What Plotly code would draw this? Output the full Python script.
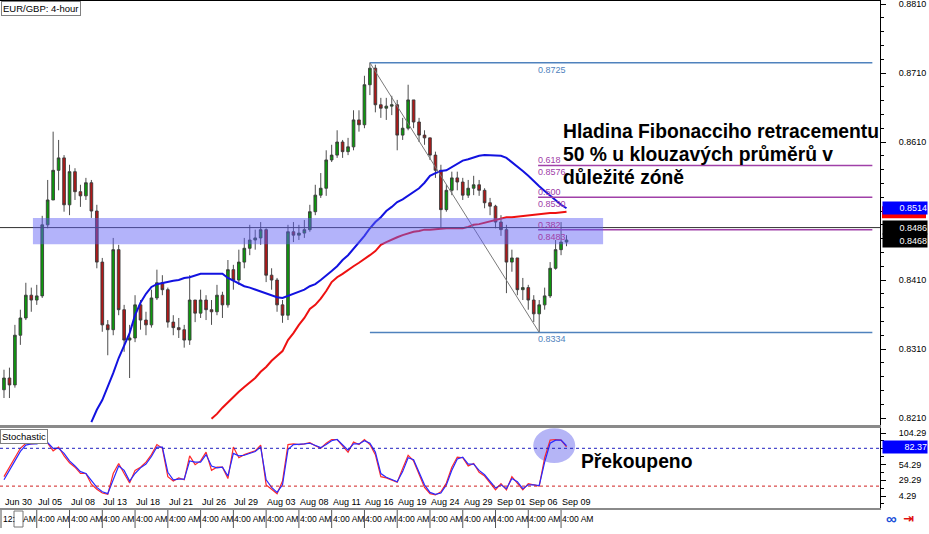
import plotly.graph_objects as go

# ---------------- data ----------------
date_labels = ["Jun 30", "Jul 05", "Jul 08", "Jul 13", "Jul 18", "Jul 21", "Jul 26", "Jul 29",
               "Aug 03", "Aug 08", "Aug 11", "Aug 16", "Aug 19", "Aug 24", "Aug 29", "Sep 01",
               "Sep 06", "Sep 09"]
time_label = "4:00 AM"
bars_per_label = 6

price_ticks = [0.8210, 0.8310, 0.8410, 0.8510, 0.8610, 0.8710, 0.8810]
price_tick_text = ["0.8210", "0.8310", "0.8410", "", "0.8610", "0.8710", "0.8810"]  # 0.8510 hidden by price boxes
stoch_ticks = [4.29, 29.29, 54.29, 104.29]
stoch_overbought = 80
stoch_oversold = 20

open_ = [0.8251, 0.8268, 0.8258, 0.8330, 0.8355, 0.8388, 0.8381, 0.8387, 0.8490, 0.8526,
         0.8569, 0.8587, 0.8519, 0.8567, 0.8538, 0.8532, 0.8551, 0.8510, 0.8436, 0.8345,
         0.8338, 0.8454, 0.8367, 0.8323, 0.8326, 0.8374, 0.8352, 0.8345, 0.8384, 0.8406,
         0.8396, 0.8349, 0.8341, 0.8338, 0.8323, 0.8381, 0.8362, 0.8381, 0.8367, 0.8364,
         0.8388, 0.8374, 0.8425, 0.8410, 0.8436, 0.8456, 0.8468, 0.8471, 0.8483, 0.8417,
         0.8410, 0.8374, 0.8359, 0.8480, 0.8475, 0.8478, 0.8483, 0.8509, 0.8533, 0.8543,
         0.8584, 0.8591, 0.8610, 0.8596, 0.8603, 0.8642, 0.8635, 0.8693, 0.8717, 0.8664,
         0.8659, 0.8662, 0.8664, 0.8620, 0.8630, 0.8671, 0.8639, 0.8620, 0.8616, 0.8591,
         0.8569, 0.8512, 0.8540, 0.8558, 0.8552, 0.8533, 0.8543, 0.8548, 0.8540, 0.8522,
         0.8517, 0.8494, 0.8483, 0.8436, 0.8442, 0.8396, 0.8399, 0.8381, 0.8361, 0.8374,
         0.8387, 0.8427, 0.8454, 0.8465]
high = [0.8280, 0.8283, 0.8345, 0.8367, 0.8406, 0.8399, 0.8403, 0.8503, 0.8555, 0.8625,
        0.8613, 0.8591, 0.8577, 0.8572, 0.8548, 0.8558, 0.8555, 0.8519, 0.8442, 0.8352,
        0.8471, 0.8461, 0.8374, 0.8345, 0.8388, 0.8381, 0.8364, 0.8396, 0.8425, 0.8417,
        0.8399, 0.8359, 0.8355, 0.8345, 0.8417, 0.8381, 0.8396, 0.8388, 0.8381, 0.8403,
        0.8393, 0.8439, 0.8432, 0.8454, 0.8471, 0.8490, 0.8483, 0.8494, 0.8485, 0.8427,
        0.8413, 0.8381, 0.8490, 0.8494, 0.8490, 0.8497, 0.8519, 0.8548, 0.8565, 0.8598,
        0.8606, 0.8627, 0.8613, 0.8616, 0.8656, 0.8656, 0.8706, 0.8725, 0.8722, 0.8674,
        0.8674, 0.8677, 0.8671, 0.8645, 0.8693, 0.8671, 0.8645, 0.8627, 0.8616, 0.8596,
        0.8577, 0.8548, 0.8567, 0.8567, 0.8558, 0.8555, 0.8561, 0.8555, 0.8543, 0.8529,
        0.8519, 0.8504, 0.8490, 0.8454, 0.8442, 0.8413, 0.8403, 0.8388, 0.8381, 0.8399,
        0.8436, 0.8468, 0.8494, 0.8475]
low = [0.8239, 0.8239, 0.8254, 0.8316, 0.8352, 0.8364, 0.8374, 0.8384, 0.8485, 0.8526,
       0.8540, 0.8509, 0.8504, 0.8526, 0.8516, 0.8526, 0.8500, 0.8427, 0.8335, 0.8301,
       0.8330, 0.8359, 0.8306, 0.8268, 0.8320, 0.8338, 0.8330, 0.8341, 0.8381, 0.8388,
       0.8341, 0.8330, 0.8326, 0.8312, 0.8316, 0.8349, 0.8355, 0.8352, 0.8345, 0.8359,
       0.8355, 0.8370, 0.8396, 0.8403, 0.8427, 0.8446, 0.8454, 0.8461, 0.8407, 0.8396,
       0.8364, 0.8348, 0.8352, 0.8465, 0.8468, 0.8471, 0.8480, 0.8504, 0.8529, 0.8532,
       0.8581, 0.8587, 0.8587, 0.8591, 0.8598, 0.8625, 0.8630, 0.8678, 0.8653, 0.8645,
       0.8642, 0.8649, 0.8598, 0.8613, 0.8627, 0.8630, 0.8610, 0.8606, 0.8584, 0.8558,
       0.8485, 0.8509, 0.8533, 0.8540, 0.8526, 0.8529, 0.8533, 0.8532, 0.8514, 0.8504,
       0.8485, 0.8474, 0.8391, 0.8422, 0.8388, 0.8381, 0.8367, 0.8349, 0.8334, 0.8367,
       0.8384, 0.8425, 0.8446, 0.8459]
close = [0.8268, 0.8258, 0.8330, 0.8355, 0.8388, 0.8381, 0.8387, 0.8490, 0.8526, 0.8569,
         0.8587, 0.8519, 0.8567, 0.8538, 0.8532, 0.8551, 0.8510, 0.8436, 0.8345, 0.8338,
         0.8454, 0.8367, 0.8323, 0.8326, 0.8374, 0.8352, 0.8345, 0.8384, 0.8406, 0.8396,
         0.8349, 0.8341, 0.8338, 0.8323, 0.8381, 0.8362, 0.8381, 0.8367, 0.8364, 0.8388,
         0.8374, 0.8425, 0.8410, 0.8436, 0.8456, 0.8468, 0.8471, 0.8483, 0.8417, 0.8410,
         0.8374, 0.8359, 0.8480, 0.8475, 0.8478, 0.8483, 0.8509, 0.8533, 0.8543, 0.8584,
         0.8591, 0.8610, 0.8596, 0.8603, 0.8642, 0.8635, 0.8693, 0.8717, 0.8664, 0.8659,
         0.8662, 0.8664, 0.8620, 0.8630, 0.8671, 0.8639, 0.8620, 0.8616, 0.8591, 0.8569,
         0.8512, 0.8540, 0.8558, 0.8552, 0.8533, 0.8543, 0.8548, 0.8540, 0.8522, 0.8517,
         0.8494, 0.8483, 0.8436, 0.8442, 0.8396, 0.8399, 0.8381, 0.8361, 0.8374, 0.8387,
         0.8427, 0.8454, 0.8465, 0.8468]

ma_blue = [None] * 16 + [
    0.8204, 0.8222, 0.8236, 0.8255, 0.8275, 0.8297, 0.8316, 0.8333, 0.8359, 0.8377,
    0.8390, 0.8400, 0.8404, 0.8406, 0.8407, 0.8409, 0.8410, 0.8413, 0.8414, 0.8417,
    0.8419, 0.8419, 0.8419, 0.8419, 0.8419, 0.8413, 0.8409, 0.8404, 0.8401, 0.8399,
    0.8396, 0.8393, 0.8390, 0.8387, 0.8385, 0.8384, 0.8387, 0.8390, 0.8393, 0.8396,
    0.8401, 0.8404, 0.8410, 0.8416, 0.8423, 0.8430, 0.8439, 0.8446, 0.8455, 0.8464,
    0.8474, 0.8485, 0.8494, 0.8501, 0.8510, 0.8516, 0.8523, 0.8527, 0.8532, 0.8538,
    0.8543, 0.8551, 0.8561, 0.8565, 0.8568, 0.8569, 0.8574, 0.8578, 0.8583, 0.8585,
    0.8588, 0.8590, 0.8591, 0.8591, 0.8591, 0.8590, 0.8587, 0.8581, 0.8575, 0.8568,
    0.8561, 0.8553, 0.8546, 0.8539, 0.8532, 0.8526, 0.8519, 0.8514]
ma_red = [None] * 38 + [
    0.8209, 0.8216, 0.8225, 0.8233, 0.8241, 0.8248, 0.8255, 0.8262, 0.8268, 0.8277,
    0.8284, 0.8293, 0.8300, 0.8307, 0.8323, 0.8333, 0.8345, 0.8355, 0.8368, 0.8374,
    0.8383, 0.8394, 0.8407, 0.8414, 0.8419, 0.8425, 0.8430, 0.8435, 0.8440, 0.8446,
    0.8452, 0.8461, 0.8465, 0.8469, 0.8472, 0.8475, 0.8478, 0.8480, 0.8481, 0.8483,
    0.8483, 0.8484, 0.8484, 0.8485, 0.8485, 0.8485, 0.8485, 0.8487, 0.8490, 0.8491,
    0.8493, 0.8496, 0.8498, 0.8500, 0.8501, 0.8501, 0.8502, 0.8503, 0.8504, 0.8504,
    0.8505, 0.8506, 0.8507, 0.8507, 0.8508, 0.8509]

stoch_main = [35, 50, 66, 80, 88, 87, 88, 92, 88, 76,
              82, 68, 57, 50, 40, 40, 23, 15, 9, 7,
              40, 56, 40, 25, 45, 50, 58, 70, 86, 80,
              35, 28, 33, 30, 68, 54, 60, 74, 45, 50,
              50, 32, 82, 65, 70, 73, 76, 85, 22, 15,
              8, 28, 86, 87, 86, 87, 89, 84, 80, 88,
              94, 94, 84, 74, 90, 86, 94, 86, 70, 35,
              33, 30, 26, 48, 69, 60, 38, 18, 8, 6,
              11, 25, 50, 66, 65, 52, 56, 42, 36, 25,
              14, 24, 14, 35, 24, 14, 24, 22, 20, 65,
              93, 94, 93, 82.37]
stoch_signal = [30, 44, 60, 75, 85, 87, 87, 90, 89, 80,
                80, 72, 60, 52, 43, 40, 28, 18, 11, 8,
                30, 52, 45, 28, 40, 49, 55, 67, 82, 82,
                42, 30, 31, 31, 60, 58, 58, 70, 52, 49,
                50, 36, 72, 68, 69, 72, 75, 82, 30, 18,
                10, 22, 78, 86, 86, 87, 88, 85, 81, 86,
                92, 94, 86, 77, 87, 87, 92, 88, 74, 40,
                34, 31, 27, 43, 65, 62, 42, 22, 10, 7,
                9, 22, 45, 63, 66, 55, 55, 45, 38, 28,
                17, 22, 16, 32, 27, 16, 22, 22, 21, 58,
                88, 93, 93, 84]

fib_ratio_labels = ["0.618", "0.500", "0.382"]
fib_prices = [0.8576, 0.8530, 0.8483]
hline_price = 0.8486
zone_low, zone_high = 0.8462, 0.8500
zone_bars = [5.3, 109.7]
circle_bars = [96.9, 104.6]
circle_levels = [56.7, 112.0]

title_text = "EUR/GBP: 4-hour"
note_lines = ["Hladina Fibonacciho retracementu", "50 % u klouzavých průměrů v", "důležité zóně"]
note2 = "Překoupeno"

# ---------------- layout constants (pixels) ----------------
W, H = 929, 534
PLOT_R = 880
MAIN_BOT = 425
ST_TOP, ST_BOT = 428, 508
X_RANGE = [-0.73, 160.4]
Y_RANGE = [0.81999, 0.88158]
S_RANGE = [-14.74, 112.23]
SMALL = "Liberation Sans, Arial, sans-serif"
BOLD = "Liberation Sans, Arial, sans-serif"
SF = 9


def py(p):
    return 1 - p / H


def px(p):
    return p / W


n = len(close)
idx = list(range(n))
hi_idx = max(range(n), key=lambda i: high[i])
lo_idx = hi_idx + min(range(n - hi_idx), key=lambda i: low[hi_idx + i])
swing_high, swing_low = high[hi_idx], low[lo_idx]
fib_end = X_RANGE[1] - 1.4

fig = go.Figure()
fig.add_trace(go.Candlestick(
    x=idx, open=open_, high=high, low=low, close=close,
    increasing=dict(fillcolor="#0c9a0c", line=dict(color="#3a3a3a", width=0.9)),
    decreasing=dict(fillcolor="#b01818", line=dict(color="#3a3a3a", width=0.9)),
    whiskerwidth=0, showlegend=False, hoverinfo="skip", xaxis="x", yaxis="y"))
fig.add_trace(go.Scatter(x=idx, y=ma_blue, mode="lines", line=dict(color="#1212e0", width=2),
                         showlegend=False, hoverinfo="skip"))
fig.add_trace(go.Scatter(x=idx, y=ma_red, mode="lines", line=dict(color="#ee1111", width=2),
                         showlegend=False, hoverinfo="skip"))
# Fibonacci
for lvl in (swing_high, swing_low):
    fig.add_trace(go.Scatter(x=[hi_idx, fib_end], y=[lvl, lvl], mode="lines",
                             line=dict(color="#4f82bd", width=1.5), showlegend=False, hoverinfo="skip"))
for lvl in fib_prices:
    fig.add_trace(go.Scatter(x=[lo_idx - 0.2, fib_end], y=[lvl, lvl], mode="lines",
                             line=dict(color="#a040a8", width=1.5), showlegend=False, hoverinfo="skip"))
fig.add_trace(go.Scatter(x=[hi_idx, lo_idx], y=[swing_high, swing_low], mode="lines",
                         line=dict(color="#7a7a7a", width=1), showlegend=False, hoverinfo="skip"))
# Stochastic
fig.add_trace(go.Scatter(x=idx, y=stoch_main, mode="lines", line=dict(color="#ff2a2a", width=1.2),
                         xaxis="x2", yaxis="y2", showlegend=False, hoverinfo="skip"))
fig.add_trace(go.Scatter(x=idx, y=stoch_signal, mode="lines", line=dict(color="#2a2aff", width=1.2),
                         xaxis="x2", yaxis="y2", showlegend=False, hoverinfo="skip"))

shapes = []
shapes.append(dict(type="line", xref="paper", yref="y", x0=0, x1=px(PLOT_R), y0=hline_price, y1=hline_price,
                   line=dict(color="#303030", width=1)))
shapes.append(dict(type="rect", xref="x", yref="y", x0=zone_bars[0], x1=zone_bars[1], y0=zone_low, y1=zone_high,
                   fillcolor="rgba(96,96,245,0.48)", line=dict(width=0), layer="above"))
shapes.append(dict(type="line", xref="paper", yref="y2", x0=0, x1=px(PLOT_R), y0=stoch_overbought,
                   y1=stoch_overbought, line=dict(color="#2020c0", width=1, dash="dot")))
shapes.append(dict(type="line", xref="paper", yref="y2", x0=0, x1=px(PLOT_R), y0=stoch_oversold,
                   y1=stoch_oversold, line=dict(color="#d02020", width=1, dash="dot")))
shapes.append(dict(type="circle", xref="x2", yref="y2", x0=circle_bars[0], x1=circle_bars[1],
                   y0=circle_levels[0], y1=circle_levels[1], fillcolor="rgba(90,90,235,0.45)",
                   line=dict(width=0), layer="below"))
shapes.append(dict(type="line", xref="paper", yref="paper", x0=0, x1=px(PLOT_R), y0=1, y1=1,
                   line=dict(color="#000", width=2)))
# red MA price marker (mostly covered by the blue one, as in the reference)
shapes.append(dict(type="rect", xref="paper", yref="y", x0=px(882), x1=px(926),
                   y0=ma_red[-1] - 0.00095, y1=ma_red[-1] + 0.0008, fillcolor="#ff0000", line=dict(width=0)))
for k in range(1, len(date_labels)):
    shapes.append(dict(type="line", xref="x", yref="paper", x0=k * bars_per_label, x1=k * bars_per_label,
                       y0=py(528), y1=py(510), line=dict(color="#555", width=1)))
shapes.append(dict(type="line", xref="paper", yref="paper", x0=px(1), x1=px(1), y0=py(528), y1=py(510),
                   line=dict(color="#555", width=1)))
shapes.append(dict(type="rect", xref="paper", yref="paper", x0=px(14), x1=px(23), y0=py(527), y1=py(511),
                   line=dict(color="#777", width=1), fillcolor="white"))

ann = []
ann.append(dict(text=title_text, xref="paper", yref="paper", x=px(1), y=py(1), xanchor="left", yanchor="top",
                showarrow=False, bgcolor="white", bordercolor="#808080", borderwidth=1, borderpad=1,
                font=dict(family=SMALL, size=9.5, color="#000")))
ann.append(dict(text="Stochastic", xref="paper", yref="paper", x=px(0), y=py(ST_TOP + 1), xanchor="left",
                yanchor="top", showarrow=False, bgcolor="white", bordercolor="#808080", borderwidth=1,
                borderpad=1, font=dict(family=SMALL, size=9.5, color="#000")))
for j, line in enumerate(note_lines):
    ann.append(dict(text="<b>" + line + "</b>", xref="paper", yref="paper", x=px(561), y=py(132 + 22.5 * j),
                    xanchor="left", yanchor="middle", showarrow=False,
                    font=dict(family=BOLD, size=19.3, color="#000")))
ann.append(dict(text="<b>" + note2 + "</b>", xref="paper", yref="paper", x=px(579), y=py(461),
                xanchor="left", yanchor="middle", showarrow=False, font=dict(family=BOLD, size=19.3, color="#000")))

fib_font_blue = dict(family=SMALL, size=SF, color="#4f82bd")
fib_font_purple = dict(family=SMALL, size=SF, color="#a040a8")
ann.append(dict(text=f"{swing_high:.4f}", x=lo_idx, y=swing_high, xref="x", yref="y", xanchor="left",
                yanchor="top", xshift=-3, showarrow=False, font=fib_font_blue))
ann.append(dict(text=f"{swing_low:.4f}", x=lo_idx, y=swing_low, xref="x", yref="y", xanchor="left",
                yanchor="top", xshift=-3, showarrow=False, font=fib_font_blue))
for lab, lvl in zip(fib_ratio_labels, fib_prices):
    ann.append(dict(text=lab, x=lo_idx, y=lvl, xref="x", yref="y", xanchor="left", yanchor="bottom",
                    xshift=-3, yshift=-2, showarrow=False, font=fib_font_purple))
    ann.append(dict(text=f"{lvl:.4f}", x=lo_idx, y=lvl, xref="x", yref="y", xanchor="left", yanchor="top",
                    xshift=-3, showarrow=False, font=fib_font_purple))

box_x = px(882)
ann.append(dict(text=f"{ma_blue[-1]:.4f}", xref="paper", yref="y", x=box_x, y=ma_blue[-1], xanchor="left",
                yanchor="middle", showarrow=False, bgcolor="#0000ff", width=44, height=12, borderpad=0,
                align="right", font=dict(family=SMALL, size=SF, color="white")))
for v in (hline_price, close[-1]):
    ann.append(dict(text=f"{v:.4f}", xref="paper", yref="y", x=box_x, y=v, xanchor="left",
                    yanchor="middle", showarrow=False, bgcolor="#000", width=44, height=13, borderpad=0,
                    align="right", font=dict(family=SMALL, size=SF, color="white")))
ann.append(dict(text=f"{stoch_main[-1]:.2f}", xref="paper", yref="y2", x=box_x, y=stoch_main[-1], xanchor="left",
                yanchor="middle", showarrow=False, bgcolor="#0000ff", width=44, height=12, borderpad=0,
                align="right", font=dict(family=SMALL, size=SF, color="white")))

for k, lab in enumerate(date_labels):
    ann.append(dict(text=lab, xref="x", yref="paper", x=k * bars_per_label, y=py(502), xanchor="left",
                    yanchor="middle", xshift=-1, showarrow=False, font=dict(family=SMALL, size=SF, color="#000")))
    if k > 0:
        ann.append(dict(text=time_label, xref="x", yref="paper", x=k * bars_per_label, y=py(519),
                        xanchor="left", yanchor="middle", xshift=-1, showarrow=False,
                        font=dict(family=SMALL, size=8.6, color="#000")))
ann.append(dict(text="12:", xref="paper", yref="paper", x=px(1), y=py(519), xanchor="left", yanchor="middle",
                showarrow=False, font=dict(family=SMALL, size=8.6, color="#000")))
ann.append(dict(text="AM", xref="paper", yref="paper", x=px(21), y=py(519), xanchor="left", yanchor="middle",
                showarrow=False, font=dict(family=SMALL, size=8.6, color="#000")))
ann.append(dict(text="<b>∞</b>", xref="paper", yref="paper", x=px(884), y=py(518), xanchor="left",
                yanchor="middle", showarrow=False, font=dict(family=BOLD, size=15, color="#1a4fd8")))
ann.append(dict(text="<b>⇥</b>", xref="paper", yref="paper", x=px(901), y=py(518), xanchor="left",
                yanchor="middle", showarrow=False, font=dict(family="DejaVu Sans", size=13, color="#e01010")))

axis_font = dict(family=SMALL, size=SF, color="#000")
fig.update_layout(
    width=W, height=H, margin=dict(l=0, r=0, t=0, b=0),
    paper_bgcolor="white", plot_bgcolor="white", showlegend=False,
    xaxis=dict(domain=[0, px(PLOT_R)], range=X_RANGE, anchor="y", showgrid=False, zeroline=False,
               showticklabels=False, ticks="", showline=True, mirror=False, linecolor="#8a8a8a", linewidth=2,
               rangeslider=dict(visible=False), fixedrange=True),
    yaxis=dict(domain=[py(MAIN_BOT), 1], range=Y_RANGE, side="right", anchor="x", tickmode="array",
               tickvals=price_ticks, ticktext=price_tick_text, ticks="outside", ticklen=5, tickcolor="#000",
               showline=True, linecolor="#000", linewidth=1, showgrid=False, zeroline=False,
               minor=dict(dtick=0.002, tick0=0.8210, ticks="outside", ticklen=3, tickcolor="#000"),
               tickfont=axis_font, ticklabelstandoff=11, ticklabeloverflow="allow"),
    xaxis2=dict(domain=[0, px(PLOT_R)], range=X_RANGE, anchor="y2", matches="x", showgrid=False,
                zeroline=False, showticklabels=False, ticks="", showline=True, mirror=True,
                linecolor="#8a8a8a", linewidth=2),
    yaxis2=dict(domain=[py(ST_BOT), py(ST_TOP)], range=S_RANGE, side="right", anchor="x2", tickmode="array",
                tickvals=stoch_ticks, tickformat=".2f", ticks="outside", ticklen=5, tickcolor="#000",
                showline=True, linecolor="#000", linewidth=1, showgrid=False, zeroline=False,
                minor=dict(dtick=12.5, tick0=4.29, ticks="outside", ticklen=3, tickcolor="#000"),
                tickfont=axis_font, ticklabelstandoff=11, ticklabeloverflow="allow"),
    shapes=shapes, annotations=ann,
)
fig.write_html("out.html", config={"displayModeBar": False},
               post_script="document.body.style.margin='0px';")
